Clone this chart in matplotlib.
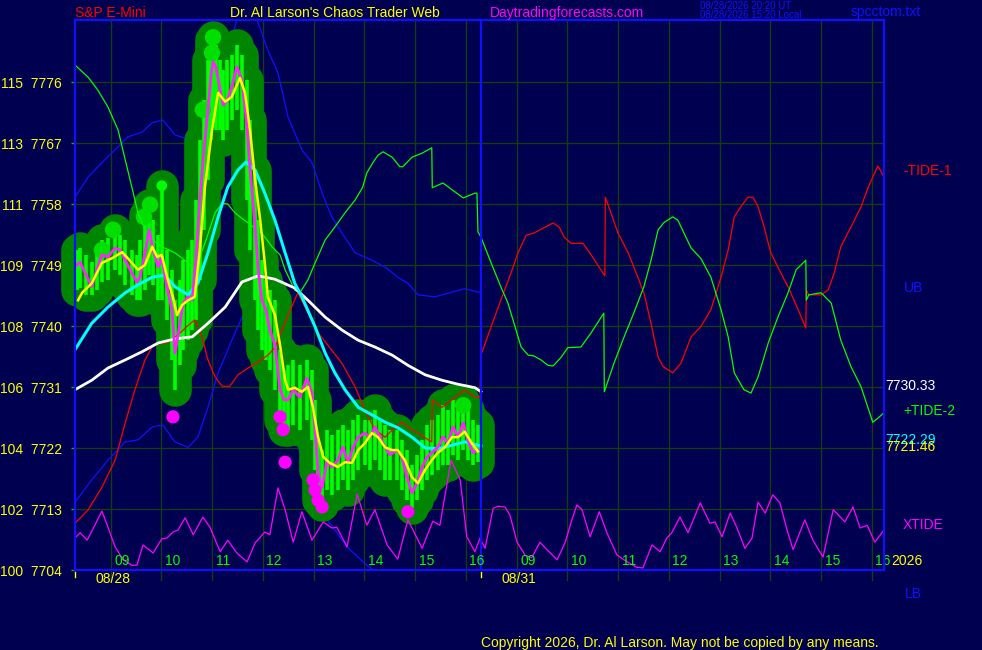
import matplotlib
matplotlib.use('Agg')
import matplotlib.pyplot as plt

# time axis: hours after 08:00 on 08/28; 8.0 is the session break (08/31 starts there)
hour_labels = ['09', '10', '11', '12', '13', '14', '15', '16']
date_labels = ['08/28', '08/31']
price_ticks = [7704, 7713, 7722, 7731, 7740, 7749, 7758, 7767, 7776]
pct_labels = [100, 102, 104, 106, 108, 109, 111, 113, 115]

# S&P e-mini price (close line + bar ranges)
close_t = [0.04, 0.10, 0.22, 0.33, 0.43, 0.53, 0.65, 0.79, 0.89, 0.99,
           1.12, 1.22, 1.28, 1.38, 1.46, 1.54, 1.64, 1.71, 1.81, 1.91,
           1.97, 2.07, 2.13, 2.23, 2.31, 2.38, 2.46, 2.54, 2.62, 2.68,
           2.72, 2.78, 2.86, 2.92, 3.00, 3.09, 3.19, 3.29, 3.39, 3.45,
           3.55, 3.61, 3.68, 3.76, 3.84, 3.94, 4.04, 4.12, 4.20, 4.30,
           4.43, 4.57, 4.67, 4.73, 4.79, 4.87, 4.97, 5.06, 5.18, 5.28,
           5.38, 5.48, 5.58, 5.71, 5.81, 5.91, 6.01, 6.11, 6.21, 6.34,
           6.44, 6.54, 6.64, 6.74, 6.84, 6.94, 7.03, 7.15, 7.25, 7.35,
           7.45, 7.55, 7.65, 7.74, 7.84, 7.94]
close_p = [7749.0, 7749.4, 7747.5, 7745.8, 7748.3, 7750.5, 7750.2, 7751.5, 7751.2, 7749.7,
           7747.8, 7746.5, 7747.2, 7750.8, 7754.2, 7751.2, 7748.7, 7750.2, 7745.8, 7742.4,
           7736.0, 7740.4, 7743.4, 7744.3, 7743.8, 7749.7, 7758.6, 7766.0, 7771.9, 7777.0,
           7779.0, 7778.1, 7774.8, 7772.6, 7773.3, 7775.3, 7778.2, 7776.3, 7769.4, 7763.0,
           7754.6, 7748.3, 7743.8, 7742.4, 7739.4, 7737.2, 7730.6, 7729.1, 7729.1, 7730.6,
           7729.5, 7732.3, 7730.1, 7724.7, 7718.3, 7716.2, 7720.2, 7719.2, 7720.2, 7722.1,
           7719.8, 7722.1, 7723.6, 7724.2, 7723.6, 7725.1, 7723.6, 7722.1, 7721.0, 7721.7,
           7720.7, 7717.7, 7715.4, 7716.8, 7719.2, 7720.7, 7721.3, 7722.1, 7723.6, 7722.7,
           7725.1, 7723.6, 7725.7, 7723.2, 7721.3, 7721.7]
bar_hi = [7751.2, 7751.5, 7750.5, 7749.4, 7750.9, 7752.7, 7753.0, 7754.2, 7753.4, 7752.7,
          7751.2, 7750.5, 7752.7, 7756.4, 7757.9, 7755.6, 7753.4, 7760.7, 7751.2, 7748.3,
          7743.8, 7746.8, 7749.7, 7751.2, 7752.7, 7758.6, 7767.4, 7773.3, 7779.2, 7782.2,
          7782.6, 7781.5, 7779.2, 7777.8, 7779.2, 7780.0, 7781.5, 7780.0, 7776.3, 7770.4,
          7763.0, 7755.6, 7749.7, 7746.8, 7745.3, 7743.8, 7736.5, 7733.5, 7734.2, 7735.0,
          7734.2, 7735.0, 7733.5, 7729.1, 7723.2, 7721.7, 7724.7, 7723.9, 7724.7, 7725.4,
          7724.7, 7726.1, 7726.9, 7726.1, 7726.1, 7727.6, 7726.1, 7725.4, 7724.7, 7724.7,
          7723.2, 7721.7, 7719.5, 7721.0, 7723.2, 7725.4, 7726.1, 7726.9, 7728.3, 7727.6,
          7729.1, 7728.3, 7729.1, 7727.6, 7726.1, 7725.4]
bar_lo = [7745.3, 7745.6, 7744.6, 7744.6, 7745.3, 7746.5, 7746.8, 7748.3, 7747.5, 7746.0,
          7744.6, 7743.8, 7743.8, 7745.3, 7747.5, 7746.0, 7743.8, 7743.8, 7740.9, 7735.0,
          7730.6, 7734.2, 7736.5, 7737.9, 7739.4, 7740.9, 7746.8, 7754.2, 7761.5, 7767.4,
          7770.4, 7768.9, 7768.9, 7767.4, 7768.9, 7770.4, 7771.9, 7768.9, 7758.6, 7751.2,
          7743.8, 7739.4, 7736.5, 7735.0, 7733.5, 7730.6, 7726.1, 7724.7, 7724.7, 7725.4,
          7724.7, 7726.1, 7723.2, 7718.8, 7714.3, 7713.6, 7715.8, 7715.1, 7715.8, 7717.3,
          7715.8, 7717.3, 7718.8, 7719.5, 7718.8, 7720.2, 7718.8, 7717.3, 7717.3, 7717.3,
          7715.8, 7714.3, 7713.1, 7714.3, 7715.8, 7717.3, 7718.0, 7718.8, 7719.5, 7719.5,
          7721.0, 7720.2, 7721.7, 7720.2, 7719.5, 7719.9]

# smoothed price lines
yel_t = [0.06, 0.14, 0.33, 0.53, 0.73, 0.93, 1.04, 1.24, 1.38, 1.52,
         1.62, 1.71, 1.83, 1.93, 2.01, 2.11, 2.23, 2.36, 2.46, 2.56,
         2.70, 2.82, 2.96, 3.09, 3.25, 3.35, 3.45, 3.55, 3.65, 3.74,
         3.80, 3.94, 4.04, 4.14, 4.20, 4.33, 4.47, 4.59, 4.69, 4.79,
         4.89, 5.02, 5.18, 5.32, 5.46, 5.58, 5.71, 5.85, 5.97, 6.11,
         6.25, 6.36, 6.50, 6.64, 6.76, 6.90, 7.03, 7.15, 7.29, 7.43,
         7.55, 7.68, 7.82, 7.94]
yel_p = [7743.8, 7744.9, 7746.3, 7749.3, 7750.0, 7750.9, 7750.0, 7748.3, 7749.0, 7751.7,
         7750.2, 7750.5, 7746.8, 7744.3, 7741.6, 7743.1, 7743.8, 7744.3, 7751.2, 7760.5,
         7768.9, 7774.4, 7773.1, 7773.8, 7776.6, 7774.4, 7768.9, 7761.5, 7755.6, 7749.3,
         7744.3, 7741.6, 7737.2, 7732.0, 7730.6, 7730.9, 7730.3, 7731.0, 7728.0, 7723.6,
         7720.7, 7719.8, 7719.2, 7719.9, 7719.8, 7721.7, 7722.7, 7724.2, 7723.6, 7722.1,
         7721.7, 7721.7, 7720.2, 7717.7, 7716.8, 7718.8, 7720.2, 7721.3, 7722.1, 7723.6,
         7723.6, 7724.4, 7722.7, 7721.5]
cyan_t = [0.00, 0.33, 0.65, 0.99, 1.18, 1.52, 1.77, 1.97, 2.23, 2.42,
          2.62, 2.82, 3.01, 3.21, 3.37, 3.55, 3.74, 3.94, 4.14, 4.33,
          4.47, 4.73, 4.93, 5.12, 5.32, 5.58, 5.85, 6.11, 6.36, 6.64,
          6.90, 7.15, 7.43, 7.68, 7.94, 8.00]
cyan_p = [7736.5, 7740.4, 7742.8, 7744.9, 7745.8, 7747.2, 7747.5, 7745.8, 7744.6, 7746.3,
          7750.8, 7756.1, 7760.5, 7763.0, 7764.2, 7763.0, 7759.6, 7755.6, 7750.8, 7746.3,
          7744.3, 7739.9, 7736.0, 7733.1, 7730.6, 7728.0, 7726.9, 7725.8, 7725.0, 7723.6,
          7722.0, 7721.9, 7722.4, 7722.9, 7722.4, 7722.3]
wht_t = [0.00, 0.33, 0.65, 0.99, 1.32, 1.64, 1.97, 2.31, 2.62, 2.96,
         3.29, 3.61, 3.94, 4.33, 4.59, 4.93, 5.26, 5.58, 5.91, 6.25,
         6.56, 6.90, 7.23, 7.55, 7.88, 8.00]
wht_p = [7730.6, 7732.0, 7733.8, 7735.0, 7736.2, 7737.5, 7738.1, 7738.4, 7740.4, 7742.8,
         7746.5, 7747.4, 7746.9, 7745.6, 7743.8, 7741.3, 7739.4, 7737.9, 7736.9, 7735.7,
         7734.2, 7732.8, 7732.0, 7731.4, 7730.9, 7730.3]

# upper / lower bands
ub_t = [0.00, 0.26, 0.53, 0.79, 1.04, 1.32, 1.52, 1.73, 1.97, 2.17,
        2.27, 2.70, 3.11, 3.35, 3.59, 3.80, 4.00, 4.20, 4.47, 4.67,
        4.87, 5.06, 5.26, 5.52, 5.85, 6.11, 6.36, 6.56, 6.76, 7.09,
        7.43, 7.68, 7.94, 8.00]
ub_p = [7759.0, 7762.0, 7764.1, 7766.0, 7767.9, 7768.6, 7770.0, 7770.4, 7768.2, 7767.7,
        7767.1, 7774.8, 7783.2, 7788.8, 7785.1, 7780.7, 7777.3, 7770.8, 7766.0, 7764.1,
        7759.6, 7756.1, 7753.7, 7750.8, 7749.7, 7748.7, 7747.2, 7746.3, 7744.6, 7744.3,
        7745.0, 7745.5, 7745.0, 7745.0]
lb_t = [0.00, 0.33, 0.65, 0.99, 1.24, 1.52, 1.73, 1.97, 2.23, 2.42,
        2.62, 2.82, 3.09, 3.29, 3.45, 3.65, 3.94, 4.37, 4.83, 5.12,
        5.36, 5.75, 6.01, 6.40, 6.99, 8.00]
lb_p = [7714.0, 7717.3, 7720.2, 7722.9, 7723.2, 7725.1, 7725.4, 7722.9, 7722.1, 7723.6,
        7728.0, 7733.1, 7737.9, 7741.3, 7742.4, 7740.1, 7732.0, 7722.7, 7712.9, 7709.9,
        7707.4, 7704.7, 7703.3, 7701.0, 7699.9, 7699.3]

# -TIDE-1 (red) and +TIDE-2 (green) forecasts
tide1_t = [0.00, 0.26, 0.53, 0.79, 0.99, 1.18, 1.38, 1.54, 1.83, 2.03,
           2.23, 2.36, 2.50, 2.62, 2.76, 2.90, 3.05, 3.21, 3.41, 3.61,
           3.80, 3.94, 4.18, 4.39, 4.79, 5.26, 5.52, 5.71, 5.91, 6.11,
           6.31, 6.44, 6.56, 6.76, 6.96, 7.03, 7.04, 7.23, 7.43, 7.68,
           7.88, 7.98, 8.00, 8.20, 8.39, 8.59, 8.73, 8.89, 9.04, 9.24,
           9.42, 9.54, 9.64, 9.77, 10.01, 10.17, 10.36, 10.44, 10.45, 10.56,
           10.70, 10.90, 11.09, 11.21, 11.35, 11.49, 11.59, 11.78, 11.94, 12.14,
           12.33, 12.53, 12.73, 12.87, 12.99, 13.12, 13.26, 13.36, 13.46, 13.58,
           13.71, 13.91, 14.05, 14.25, 14.40, 14.41, 14.46, 14.70, 14.84, 14.96,
           15.09, 15.29, 15.49, 15.63, 15.82, 15.94]
tide1_p = [7710.9, 7712.9, 7716.2, 7720.2, 7725.7, 7730.6, 7735.0, 7737.2, 7737.6, 7738.7,
           7740.1, 7740.9, 7738.4, 7735.0, 7732.5, 7731.1, 7731.1, 7732.8, 7733.8, 7734.7,
           7735.7, 7736.8, 7741.3, 7744.9, 7739.0, 7734.5, 7731.0, 7727.6, 7724.7, 7723.6,
           7725.1, 7725.8, 7725.1, 7724.2, 7723.2, 7722.9, 7729.1, 7728.0, 7729.1, 7730.6,
           7729.5, 7729.5, 7735.7, 7739.9, 7743.8, 7747.8, 7750.8, 7753.4, 7753.7, 7754.5,
           7755.2, 7754.6, 7753.1, 7752.2, 7752.2, 7750.5, 7748.3, 7747.4, 7759.0, 7756.7,
           7753.7, 7750.8, 7747.2, 7744.9, 7740.4, 7735.4, 7734.0, 7733.1, 7734.5, 7738.4,
           7739.9, 7742.4, 7747.2, 7751.2, 7756.1, 7757.6, 7759.0, 7759.0, 7757.6, 7754.6,
           7750.8, 7747.8, 7745.8, 7742.4, 7739.7, 7745.3, 7744.6, 7744.6, 7745.3, 7747.8,
           7751.7, 7754.6, 7757.6, 7760.5, 7763.6, 7762.0]
tide2_t = [0.00, 0.26, 0.45, 0.65, 0.85, 0.99, 1.12, 1.24, 1.38, 1.52,
           1.71, 1.97, 2.23, 2.36, 2.56, 2.76, 2.90, 3.01, 3.15, 3.41,
           3.68, 3.88, 4.04, 4.14, 4.33, 4.43, 4.59, 4.73, 4.93, 5.12,
           5.32, 5.52, 5.67, 5.75, 5.87, 5.97, 6.07, 6.25, 6.40, 6.46,
           6.64, 6.84, 7.03, 7.04, 7.25, 7.43, 7.65, 7.88, 7.92, 7.94,
           8.00, 8.20, 8.39, 8.53, 8.65, 8.79, 8.93, 9.04, 9.18, 9.32,
           9.42, 9.58, 9.71, 9.97, 10.17, 10.42, 10.43, 10.62, 10.82, 11.01,
           11.21, 11.35, 11.49, 11.61, 11.78, 11.88, 12.00, 12.14, 12.33, 12.53,
           12.73, 12.87, 12.99, 13.18, 13.32, 13.46, 13.66, 13.85, 14.05, 14.21,
           14.40, 14.41, 14.46, 14.70, 14.90, 15.09, 15.29, 15.49, 15.72, 15.82,
           15.94]
tide2_p = [7778.5, 7776.7, 7774.8, 7772.3, 7768.9, 7764.5, 7760.5, 7756.7, 7754.2, 7752.7,
           7751.7, 7750.8, 7749.3, 7748.3, 7752.2, 7756.7, 7758.1, 7758.0, 7756.7, 7755.2,
           7753.7, 7751.7, 7750.5, 7748.3, 7745.3, 7744.9, 7746.8, 7749.3, 7752.7, 7754.6,
           7756.7, 7758.6, 7760.5, 7762.6, 7764.1, 7765.2, 7765.7, 7764.9, 7763.5, 7763.5,
           7764.9, 7765.5, 7766.3, 7760.4, 7761.1, 7760.1, 7758.9, 7759.6, 7759.6, 7753.9,
           7753.1, 7749.3, 7745.8, 7743.4, 7740.4, 7736.9, 7735.7, 7735.6, 7735.0, 7734.2,
           7734.1, 7735.4, 7736.8, 7736.9, 7739.0, 7741.9, 7730.3, 7734.5, 7738.4, 7741.9,
           7745.8, 7749.7, 7754.2, 7755.3, 7756.1, 7755.6, 7753.7, 7751.5, 7750.0, 7747.2,
           7742.4, 7738.4, 7733.1, 7730.6, 7730.1, 7732.5, 7737.5, 7741.3, 7744.9, 7748.3,
           7749.7, 7743.8, 7744.6, 7744.9, 7743.4, 7737.9, 7734.0, 7731.0, 7725.8, 7726.4,
           7727.2]

# XTIDE oscillator (drawn in price units)
xt_t = [0.00, 0.10, 0.24, 0.39, 0.53, 0.65, 0.79, 0.95, 1.12, 1.22,
        1.34, 1.54, 1.71, 1.81, 1.93, 2.03, 2.17, 2.33, 2.52, 2.66,
        2.86, 3.01, 3.19, 3.39, 3.55, 3.74, 3.84, 4.00, 4.14, 4.30,
        4.47, 4.67, 4.89, 5.06, 5.16, 5.36, 5.56, 5.75, 5.91, 6.15,
        6.36, 6.56, 6.84, 7.05, 7.19, 7.41, 7.59, 7.72, 7.88, 7.98,
        8.08, 8.24, 8.33, 8.47, 8.57, 8.71, 8.87, 9.00, 9.16, 9.30,
        9.50, 9.66, 9.79, 9.89, 9.99, 10.15, 10.33, 10.48, 10.68, 10.88,
        11.07, 11.19, 11.37, 11.53, 11.66, 11.76, 11.92, 12.08, 12.32, 12.51,
        12.61, 12.75, 12.91, 13.04, 13.20, 13.34, 13.46, 13.60, 13.75, 13.89,
        14.03, 14.15, 14.38, 14.54, 14.74, 14.94, 15.17, 15.33, 15.47, 15.61,
        15.76, 15.94]
xt_p = [7708.7, 7709.5, 7708.4, 7710.6, 7712.7, 7710.3, 7707.4, 7705.5, 7704.7, 7704.7,
        7707.7, 7706.5, 7708.6, 7708.7, 7709.6, 7709.9, 7711.7, 7709.2, 7711.8, 7710.3,
        7706.7, 7708.4, 7706.5, 7705.2, 7708.0, 7709.6, 7709.2, 7716.1, 7712.9, 7708.1,
        7712.6, 7708.4, 7711.1, 7710.2, 7710.3, 7707.4, 7715.2, 7710.6, 7712.9, 7707.7,
        7705.6, 7711.4, 7707.2, 7711.2, 7710.6, 7720.2, 7717.3, 7708.9, 7706.7, 7708.7,
        7707.2, 7713.1, 7713.4, 7713.3, 7712.1, 7708.1, 7706.2, 7705.8, 7708.1, 7707.0,
        7705.5, 7708.1, 7711.4, 7713.6, 7712.9, 7708.9, 7712.6, 7709.5, 7706.2, 7705.2,
        7704.4, 7704.3, 7707.7, 7706.7, 7708.7, 7709.5, 7711.8, 7709.5, 7713.9, 7710.9,
        7711.1, 7708.9, 7712.4, 7710.3, 7707.2, 7708.7, 7714.0, 7712.4, 7715.1, 7713.9,
        7709.9, 7707.0, 7711.4, 7708.4, 7705.9, 7712.9, 7711.1, 7713.3, 7710.2, 7710.6,
        7708.1, 7709.9]

# marker dots
low_dot_t = [1.93, 4.04, 4.10, 4.14, 4.69, 4.73, 4.79, 4.87, 6.56]
low_dot_p = [7726.6, 7726.6, 7724.7, 7719.9, 7717.3, 7715.8, 7714.3, 7713.3, 7712.6]
lite_t = [2.72, 2.70, 2.52, 1.48, 1.36, 0.75, 0.53, 7.65]
lite_p = [7782.6, 7780.3, 7771.9, 7757.9, 7756.1, 7754.2, 7751.2, 7728.3]
spike_t = [1.71]
spike_p = [7760.7]

end_labels = ['7730.33', '7722.29', '7721.46']

plt.rcParams['font.family'] = ['Liberation Sans', 'DejaVu Sans']
BG = '#000050'
GRID = '#143c14'
BLUE = '#1010ff'

fig = plt.figure(figsize=(9.82, 6.5), dpi=100, facecolor=BG)
ax = fig.add_axes([75/982, 80/650, 809/982, 550/650], facecolor=BG)
y_top = 7704 + 550 * 9 / 61
x_end = 809 / 50.75
ax.set_xlim(0, x_end)
ax.set_ylim(7704, y_top)

# grid
for k in range(16):
    ax.plot([k + 0.70, k + 0.70], [7702.5, y_top], color=GRID, lw=1, zorder=0.5, clip_on=False)
for v in price_ticks[1:]:
    ax.axhline(v, color=GRID, lw=1, zorder=0.5)

ax.set_xticks([])
ax.set_yticks(price_ticks)
ax.set_yticklabels([f'{a}  {b}' for a, b in zip(pct_labels, price_ticks)])
ax.tick_params(axis='y', colors='#00c000', labelcolor='#ffff00', length=3, width=1,
               pad=6.5, labelsize=10)
for s in ax.spines.values():
    s.set_color(BLUE)
    s.set_linewidth(1.6)
    s.set_zorder(10)

# bands (behind the price blob)
ax.plot(ub_t, ub_p, color=BLUE, lw=0.9, zorder=1)
ax.plot(lb_t, lb_p, color=BLUE, lw=0.9, zorder=1)

# price blob + bars
ax.vlines(close_t, bar_lo, bar_hi, colors='#008500', linewidth=23.5, capstyle='round',
          zorder=2, clip_on=False)
ax.vlines(close_t, bar_lo, bar_hi, colors='#00ff00', linewidth=2.6, zorder=3)
ax.scatter(lite_t, lite_p, s=140, color='#00e000', edgecolors='none', zorder=3.2)
ax.scatter(spike_t, spike_p, s=60, color='#00ff00', edgecolors='none', zorder=3.2)

# forecast tides
ax.plot(tide1_t, tide1_p, color='#ff0000', lw=0.9, zorder=4)
ax.plot(tide2_t, tide2_p, color='#00ff00', lw=0.9, zorder=4)
ax.plot(xt_t, xt_p, color='#ff00ff', lw=0.9, zorder=4, clip_on=False)

# averages
ax.plot(wht_t, wht_p, color='#ffffff', lw=2, zorder=5)
ax.plot(cyan_t, cyan_p, color='#00ffff', lw=2.2, zorder=5)
ax.plot(close_t, close_p, color='#ff22ff', lw=2, zorder=6)
ax.plot(yel_t, yel_p, color='#ffff00', lw=1.8, zorder=7)
ax.scatter(low_dot_t, low_dot_p, s=90, color='#ff00ff', edgecolors='none', zorder=8)

# session divider
ax.axvline(8.0, color=BLUE, lw=1.6, zorder=9)

# hour and date labels
for i, h in enumerate(hour_labels):
    for day in (0, 8):
        ax.text(i + 1 + day - 0.08, 7704.3, h, color='#00ff00', fontsize=10,
                ha='center', va='bottom', zorder=9, clip_on=False)
for d, lab in zip((0, 8), date_labels):
    ax.plot([d, d], [7703.7, 7702.9], color='#ffff00', lw=1, clip_on=False)
    ax.text(d + 0.75, 7702.7, lab, color='#ffff00', fontsize=10, ha='center', va='center')


def ftext(x, y, s, color, size=10):
    fig.text(x / 982, 1 - y / 650, s, color=color, fontsize=size, ha='left', va='center')


ftext(75, 13, 'S&P E-Mini', '#ff0000')
ftext(230, 13, "Dr. Al Larson's Chaos Trader Web", '#ffff00')
ftext(490, 13, 'Daytradingforecasts.com', '#ff00ff')
ftext(700, 6, '08/28/2026 20:20 UT', BLUE, 7)
ftext(700, 15, '08/28/2026 15:20 Local', BLUE, 7)
ftext(851, 12, 'spcctom.txt', BLUE)

ftext(903, 171, '-TIDE-1', '#ff0000')
ftext(904, 288, 'UB', BLUE)
ftext(885, 386, end_labels[0], '#ffffff')
ftext(903, 411, '+TIDE-2', '#00ff00')
ftext(885, 440, end_labels[1], '#00ffff')
ftext(885, 447, end_labels[2], '#ffff00')
ftext(903, 525, 'XTIDE', '#ff00ff')
ftext(891, 561, '2026', '#ffff00')
ftext(905, 594, 'LB', BLUE)
ftext(481, 643, 'Copyright 2026, Dr. Al Larson. May not be copied by any means.', '#ffff00')

fig.savefig('out.png', dpi=100, facecolor=BG)
